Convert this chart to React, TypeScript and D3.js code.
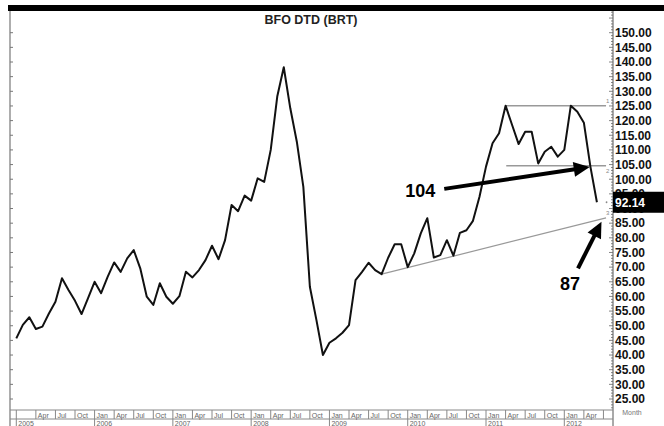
import React from "react";
import * as d3 from "d3";

// Monthly BFO DTD (BRT) values, Jan 2005 .. Jun 2012
const values: number[] = [
  45.7, 50.3, 52.9, 48.9, 49.7, 54.2, 58.2, 66.2, 62.2, 58.5, 54.0, 59.4,
  65.0, 61.1, 66.7, 71.6, 68.4, 73.0, 75.8, 69.6, 59.9, 57.1, 64.5, 59.9,
  57.5, 60.1, 68.4, 66.5, 69.0, 72.4, 77.3, 72.7, 79.2, 91.2, 89.1, 94.4,
  92.7, 100.3, 99.1, 110.0, 128.2, 138.2, 124.2, 112.8, 97.4, 63.3, 52.0, 40.0,
  44.2, 45.7, 47.6, 50.2, 65.6, 68.4, 71.5, 69.0, 67.6, 73.2, 77.8, 77.8,
  70.0, 74.7, 81.5, 86.7, 73.3, 74.1, 79.2, 73.9, 81.7, 82.6, 85.8, 94.0,
  104.3, 112.3, 115.7, 125.1, 118.5, 112.0, 116.2, 116.2, 105.4, 109.4, 111.1, 107.7,
  110.0, 125.1, 123.0, 119.3, 104.3, 92.14,
];
const years: number[] = [2005, 2006, 2007, 2008, 2009, 2010, 2011, 2012];
const quarterLabels: string[] = ["Jan", "Apr", "Jul", "Oct"];
const yTickValues: number[] = d3.range(25, 151, 5);
const lastValue = 92.14;
const title = "BFO  DTD  (BRT)";

// level lines: [label, value, start month index, end month index]
const levelLabels: string[] = ["1", "2"];
const levelValues: number[] = [125.1, 104.6];
const levelStarts: number[] = [75, 75.1];
const levelEnd = 90.4;
// trend line (month index, value)
const trendStart: [number, number] = [56, 67.6];
const trendEnd: [number, number] = [90.4, 86.8];
// annotations: text, tail (idx, value), tip (idx, value)
const annoTexts: string[] = ["104", "87"];
const annoTails: [number, number][] = [[65.6, 96.7], [86.1, 69.6]];
const annoTips: [number, number][] = [[87.9, 104.2], [89.7, 85.5]];

const W = 664;
const H = 426;
const FONT = "'Liberation Sans', Arial, Helvetica, sans-serif";

export default function App() {
  const x = d3.scaleLinear().domain([0, 84]).range([16.3, 564.3]);
  const y = d3.scaleLinear().domain([25, 150]).range([399, 32.7]);
  const axisX = 613;
  const leftX = 10;
  const plotTop = 11;
  const plotBottom = 410;
  const bandBottom = 419;

  const line = d3
    .line<number>()
    .x((_, i) => x(i))
    .y((d) => y(d));

  const minorTicks = d3.range(22, 158, 1).filter((v) => y(v) > plotTop && y(v) < plotBottom);

  // bottom axis quarter ticks
  const nQuarters = Math.ceil((values.length + 1) / 3);
  const quarters = d3.range(0, nQuarters + 1).map((q) => q * 3);

  const arrow = (tail: [number, number], tip: [number, number], key: number) => {
    const x1 = x(tail[0]);
    const y1 = y(tail[1]);
    const x2 = x(tip[0]);
    const y2 = y(tip[1]);
    const ang = Math.atan2(y2 - y1, x2 - x1);
    const headL = 16;
    const headW = 7.5;
    const bx = x2 - headL * Math.cos(ang);
    const by = y2 - headL * Math.sin(ang);
    const px = -Math.sin(ang) * headW;
    const py = Math.cos(ang) * headW;
    return (
      <g key={key}>
        <line x1={x1} y1={y1} x2={bx + Math.cos(ang)} y2={by + Math.sin(ang)} stroke="#000" strokeWidth={4} />
        <path d={`M${x2},${y2}L${bx + px},${by + py}L${bx - px},${by - py}Z`} fill="#000" />
      </g>
    );
  };

  return (
    <svg
      width={W}
      height={H}
      style={{ position: "absolute", left: 0, top: 0, background: "#fff" }}
      fontFamily={FONT}
    >
      <rect x={0} y={0} width={W} height={H} fill="#fff" />
      {/* top bar */}
      <rect x={8} y={5} width={W - 8} height={6} fill="#000" />
      {/* title */}
      <text x={311} y={24} textAnchor="middle" fontSize={12.5} fontWeight="bold" fill="#222" textLength={93} lengthAdjust="spacingAndGlyphs">
        {title}
      </text>

      {/* left axis */}
      <line x1={leftX} y1={plotTop} x2={leftX} y2={H} stroke="#777" strokeWidth={1.2} />
      {yTickValues.map((v) => (
        <line key={"l" + v} x1={leftX} x2={leftX + 3} y1={y(v)} y2={y(v)} stroke="#777" />
      ))}

      {/* right axis */}
      <line x1={axisX} y1={plotTop} x2={axisX} y2={H} stroke="#555" strokeWidth={1} />
      {minorTicks.map((v) => (
        <line key={"m" + v} x1={axisX - (v % 5 === 0 ? 4 : 2)} x2={axisX} y1={y(v)} y2={y(v)} stroke="#666" strokeWidth={0.8} />
      ))}
      {yTickValues.map((v) => (
        <text key={"t" + v} x={615} y={y(v) + 4.3} fontSize={12} fontWeight="bold" fill="#111">
          {v.toFixed(2)}
        </text>
      ))}
      <text x={632} y={415} fontSize={7} fill="#777" textAnchor="middle">
        Month
      </text>

      {/* bottom axis */}
      <line x1={leftX} x2={axisX} y1={plotBottom} y2={plotBottom} stroke="#888" strokeWidth={1} />
      <line x1={leftX} x2={axisX} y1={bandBottom} y2={bandBottom} stroke="#888" strokeWidth={1} />
      {quarters.map((q) => {
        const xx = x(q);
        if (xx > axisX - 4) return null;
        const isJan = q % 12 === 0;
        const year = years[q / 12];
        return (
          <g key={"q" + q}>
            <line x1={xx} x2={xx} y1={plotBottom} y2={isJan ? H : bandBottom} stroke="#888" strokeWidth={1} />
            {q > 0 && xx < 595 && (
              <text x={xx + 2} y={417.5} fontSize={7} fill="#666">
                {quarterLabels[(q / 3) % 4]}
              </text>
            )}
            {isJan && year !== undefined && (
              <text x={xx + 2} y={425.5} fontSize={7} fill="#666">
                {year}
              </text>
            )}
          </g>
        );
      })}

      {/* level lines */}
      {levelValues.map((v, i) => (
        <g key={"lv" + i}>
          <line x1={x(levelStarts[i])} x2={x(levelEnd)} y1={y(v)} y2={y(v)} stroke="#999" strokeWidth={1.5} />
          <text x={x(levelEnd)} y={y(v) + (i === 0 ? -3 : 7)} fontSize={6} fill="#888">
            {levelLabels[i]}
          </text>
        </g>
      ))}
      {/* trend line */}
      <line
        x1={x(trendStart[0])}
        y1={y(trendStart[1])}
        x2={x(trendEnd[0])}
        y2={y(trendEnd[1])}
        stroke="#999"
        strokeWidth={1.2}
      />
      <text x={x(trendEnd[0])} y={y(trendEnd[1]) - 3} fontSize={6} fill="#888">
        3
      </text>
      <circle cx={x(trendEnd[0]) + 0.5} cy={y(lastValue)} r={0.9} fill="#888" />

      {/* price line */}
      <path d={line(values) || ""} fill="none" stroke="#111" strokeWidth={2} strokeLinejoin="round" />

      {/* annotations */}
      {annoTexts.map((t, i) => arrow(annoTails[i], annoTips[i], i))}
      <text x={x(annoTails[0][0]) - 9} y={y(annoTails[0][1]) + 8} textAnchor="end" fontSize={18} fontWeight="bold" fill="#000">
        {annoTexts[0]}
      </text>
      <text x={x(annoTails[1][0]) - 8} y={y(annoTails[1][1]) + 22} textAnchor="middle" fontSize={18} fontWeight="bold" fill="#000">
        {annoTexts[1]}
      </text>

      {/* last value box */}
      <rect x={axisX} y={y(lastValue) - 10.5} width={W - axisX} height={21} fill="#000" />
      <text x={615} y={y(lastValue) + 4.5} fontSize={12} fontWeight="bold" fill="#fff">
        {lastValue.toFixed(2)}
      </text>
    </svg>
  );
}
